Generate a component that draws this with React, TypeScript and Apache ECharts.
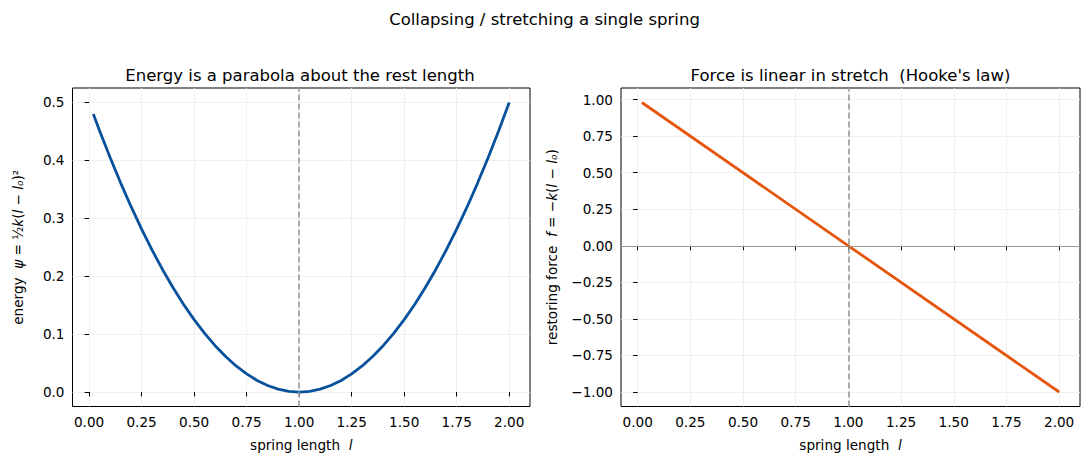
import React, { useEffect, useRef } from "react";
import * as echarts from "echarts";

const lengths = [0.02, 0.05, 0.1, 0.15, 0.2, 0.25, 0.3, 0.35, 0.4, 0.45, 0.5, 0.55, 0.6, 0.65, 0.7, 0.75, 0.8, 0.85, 0.9, 0.95, 1.0, 1.05, 1.1, 1.15, 1.2, 1.25, 1.3, 1.35, 1.4, 1.45, 1.5, 1.55, 1.6, 1.65, 1.7, 1.75, 1.8, 1.85, 1.9, 1.95, 2.0];
const energy = [0.4802, 0.45125, 0.405, 0.36125, 0.32, 0.28125, 0.245, 0.21125, 0.18, 0.15125, 0.125, 0.10125, 0.08, 0.06125, 0.045, 0.03125, 0.02, 0.01125, 0.005, 0.00125, 0, 0.00125, 0.005, 0.01125, 0.02, 0.03125, 0.045, 0.06125, 0.08, 0.10125, 0.125, 0.15125, 0.18, 0.21125, 0.245, 0.28125, 0.32, 0.36125, 0.405, 0.45125, 0.5];
const forceLengths = [0.02, 1.0, 2.0];
const force = [0.98, 0, -1.0];
const xTicks = [0, 0.25, 0.5, 0.75, 1.0, 1.25, 1.5, 1.75, 2.0];
const energyTicks = [0, 0.1, 0.2, 0.3, 0.4, 0.5];
const forceTicks = [-1.0, -0.75, -0.5, -0.25, 0, 0.25, 0.5, 0.75, 1.0];
const restLength = 1.0;

const FONT = "DejaVu Sans";
const TICK = 13.6;
const TITLE = 16.5;

export default function App() {
  const ref = useRef<HTMLDivElement>(null);
  useEffect(() => {
    if (!ref.current) return;
    const chart = echarts.init(ref.current, null, { renderer: "svg" });
    const gridBase = { top: 88, bottom: 56.5, show: true, borderColor: "#000", borderWidth: 1, backgroundColor: "transparent" };
    const rich = {
      t: { fontFamily: FONT, fontSize: TICK, color: "#000" },
      i: { fontFamily: FONT, fontSize: TICK, fontStyle: "italic", color: "#000" },
    };
    const mkX = (gi: number) => ({
      type: "value",
      gridIndex: gi,
      min: -0.079,
      max: 2.099,
      axisLine: { show: false },
      axisTick: { show: true, customValues: xTicks, length: 4.5, lineStyle: { color: "#000" } },
      axisLabel: {
        customValues: xTicks,
        formatter: (v: number) => v.toFixed(2),
        color: "#000",
        fontFamily: FONT,
        fontSize: TICK,
        margin: 8,
      },
      splitLine: { show: true, lineStyle: { color: "#ebebeb", width: 0.8 } },
      name: "{t|spring length  }{i|l}",
      nameLocation: "middle",
      nameGap: 31,
      nameTextStyle: { rich },
    });
    const mkY = (gi: number, min: number, max: number, ticks: number[], digits: number, name: string, gap: number) => ({
      type: "value",
      gridIndex: gi,
      min,
      max,
      axisLine: { show: false },
      axisTick: { show: true, customValues: ticks, length: 4.5, lineStyle: { color: "#000" } },
      axisLabel: {
        customValues: ticks,
        formatter: (v: number) => (v < 0 ? "\u2212" + Math.abs(v).toFixed(digits) : v.toFixed(digits)),
        color: "#000",
        fontFamily: FONT,
        fontSize: TICK,
        margin: 8,
      },
      splitLine: { show: true, lineStyle: { color: "#ebebeb", width: 0.8 } },
      name,
      nameLocation: "middle",
      nameGap: gap,
      nameRotate: 90,
      nameTextStyle: { rich },
    });
    chart.setOption({
      animation: false,
      backgroundColor: "#fff",
      title: [
        { text: "Collapsing / stretching a single spring", left: "center", top: 6, textStyle: { fontFamily: FONT, fontSize: TITLE, fontWeight: "normal", color: "#000" } },
        { text: "Energy is a parabola about the rest length", left: 295, textAlign: "center", top: 62, textStyle: { fontFamily: FONT, fontSize: TITLE, fontWeight: "normal", color: "#000" } },
        { text: "Force is linear in stretch  (Hooke's law)", left: 845.5, textAlign: "center", top: 62, textStyle: { fontFamily: FONT, fontSize: TITLE, fontWeight: "normal", color: "#000" } },
      ],
      grid: [
        { ...gridBase, left: 72.5, right: 559 },
        { ...gridBase, left: 621, right: 9 },
      ],
      xAxis: [mkX(0), mkX(1)],
      yAxis: [
        mkY(0, -0.025, 0.525, energyTicks, 1, "{t|energy  }{i|ψ}{t| = ½}{i|k}{t|(}{i|l}{t| − }{i|l₀}{t|)²}", 48),
        mkY(1, -1.099, 1.079, forceTicks, 2, "{t|restoring force  }{i|f}{t| = −}{i|k}{t|(}{i|l}{t| − }{i|l₀}{t|)}", 62),
      ],
      series: [
        {
          type: "line",
          xAxisIndex: 0,
          yAxisIndex: 0,
          data: lengths.map((l, i) => [l, energy[i]]),
          showSymbol: false,
          smooth: false,
          lineStyle: { color: "#08519c", width: 2.8 },
          markLine: {
            silent: true,
            symbol: "none",
            label: { show: false },
            lineStyle: { color: "#999999", type: [6, 3], width: 1.6 },
            data: [{ xAxis: restLength }],
          },
          z: 3,
        },
        {
          type: "line",
          xAxisIndex: 1,
          yAxisIndex: 1,
          data: forceLengths.map((l, i) => [l, force[i]]),
          showSymbol: false,
          lineStyle: { color: "#e6550d", width: 2.8 },
          markLine: {
            silent: true,
            symbol: "none",
            label: { show: false },
            data: [
              { yAxis: 0, lineStyle: { color: "#999999", type: "solid", width: 1 } },
              { xAxis: restLength, lineStyle: { color: "#999999", type: [6, 3], width: 1.6 } },
            ],
          },
          z: 3,
        },
      ],
    });
    return () => chart.dispose();
  }, []);
  return <div ref={ref} style={{ position: "fixed", left: 0, top: 0, width: 1089, height: 463 }} />;
}
